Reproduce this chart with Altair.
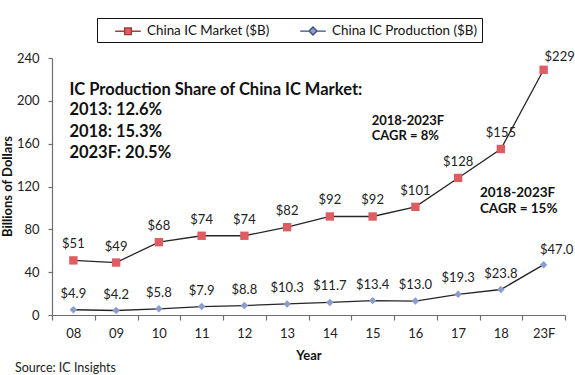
import altair as alt
import pandas as pd

# ---- data ----
years = ["08", "09", "10", "11", "12", "13", "14", "15", "16", "17", "18", "23F"]
market = [51, 49, 68, 74, 74, 82, 92, 92, 101, 128, 155, 229]
production = [4.9, 4.2, 5.8, 7.9, 8.8, 10.3, 11.7, 13.4, 13.0, 19.3, 23.8, 47.0]
series_names = ["China IC Market ($B)", "China IC Production ($B)"]
y_ticks = [0, 40, 80, 120, 160, 200, 240]

share_lines = ["IC Production Share of China IC Market:", "2013: 12.6%", "2018: 15.3%", "2023F: 20.5%"]
share_y = [210, 191, 171, 151]
cagr8_lines = ["2018-2023F", "CAGR = 8%"]
cagr8_y = [181, 167]
cagr15_lines = ["2018-2023F", "CAGR = 15%"]
cagr15_y = [114, 99]
source_text = "Source: IC Insights"

FONT = "Lato"
RED = "#de5d62"
BLUE = "#8a9dcc"
LINE = "#262626"

df_m = pd.DataFrame({"year": years, "value": market, "series": series_names[0],
                     "label": ["$" + f"{v:.0f}" for v in market]})
df_p = pd.DataFrame({"year": years, "value": production, "series": series_names[1],
                     "label": ["$" + f"{v:.1f}" for v in production]})
df_all = pd.concat([df_m, df_p], ignore_index=True)

xscale = alt.Scale(type="band", domain=years, paddingInner=0, paddingOuter=0)
yscale = alt.Scale(domain=[0, 240], nice=False, zero=True)

X = alt.X("year:N", scale=xscale, bandPosition=0.5,
          axis=alt.Axis(title="Year", tickBand="extent", labelAngle=0, ticks=True,
                        tickSize=5, labelPadding=7, titlePadding=9))
Y = alt.Y("value:Q", scale=yscale,
          axis=alt.Axis(title="Billions of Dollars", values=y_ticks, grid=False,
                        tickSize=4, labelPadding=9, titleX=-45, titleY=128,
                        titleBaseline="middle", titleAlign="center", titleAngle=270))

lines = alt.Chart(df_all).mark_line(color=LINE, strokeWidth=1.3).encode(
    x=X, y=Y, detail="series:N")

pts_m = alt.Chart(df_m).mark_point(shape="square", filled=True, color=RED, opacity=1, size=70).encode(
    x=X, y=Y)
pts_p = alt.Chart(df_p).mark_point(shape="diamond", filled=True, color=BLUE, opacity=1, size=55).encode(
    x=X, y=Y)

lab_style = dict(font=FONT, fontSize=13, color="#222")
lab_m = alt.Chart(df_m[df_m.year != "23F"]).mark_text(dy=-16, **lab_style).encode(
    x=X, y=Y, text="label:N")
lab_p = alt.Chart(df_p[df_p.year != "23F"]).mark_text(dy=-16, **lab_style).encode(
    x=X, y=Y, text="label:N")
lab_m_last = alt.Chart(df_m[df_m.year == "23F"]).mark_text(dx=16, dy=-13, **lab_style).encode(
    x=X, y=Y, text="label:N")
lab_p_last = alt.Chart(df_p[df_p.year == "23F"]).mark_text(dx=13, dy=-15, **lab_style).encode(
    x=X, y=Y, text="label:N")

# legend (dummy invisible layer carrying the legend)
path_sq = "M-1.6,0H-0.42M0.42,0H1.6M-0.42,-0.42H0.42V0.42H-0.42Z"
path_di = "M-1.6,0H-0.5M0.5,0H1.6M0,-0.5L0.5,0L0,0.5L-0.5,0Z"
leg = alt.Legend(title=None, orient="none", legendX=45, legendY=-40, direction="horizontal",
                 strokeColor="#111", padding=4, symbolSize=256, symbolStrokeWidth=1.4,
                 symbolOffset=18, labelOffset=10, columnPadding=16, symbolOpacity=1,
                 labelFont=FONT, labelFontSize=13.4, labelColor="#111")
df_leg = pd.DataFrame({"year": [years[0], years[0]], "value": [0, 0], "series": series_names})
legend_layer = alt.Chart(df_leg).mark_point(opacity=0, filled=True).encode(
    x=X, y=Y,
    fill=alt.Fill("series:N", scale=alt.Scale(domain=series_names, range=[RED, BLUE]), legend=leg),
    stroke=alt.Stroke("series:N", scale=alt.Scale(domain=series_names, range=["#a23a3e", "#3d4c7a"]), legend=leg),
    shape=alt.Shape("series:N", scale=alt.Scale(domain=series_names, range=[path_sq, path_di]), legend=leg),
)

# annotations
bold = dict(font=FONT, fontWeight="bold", color="#111", align="left", baseline="middle")
ann1 = alt.Chart(pd.DataFrame({"year": years[0], "value": share_y, "t": share_lines})).mark_text(
    dx=-4, fontSize=16.5, **bold).encode(x=X, y=Y, text="t:N")
ann2 = alt.Chart(pd.DataFrame({"year": years[7], "value": cagr8_y, "t": cagr8_lines})).mark_text(
    dx=-1, fontSize=13, **bold).encode(x=X, y=Y, text="t:N")
ann3 = alt.Chart(pd.DataFrame({"year": years[10], "value": cagr15_y, "t": cagr15_lines})).mark_text(
    dx=-21, fontSize=13.5, **bold).encode(x=X, y=Y, text="t:N")
src = alt.Chart(pd.DataFrame({"t": [source_text]})).mark_text(
    font=FONT, fontSize=12.5, color="#222", align="left", baseline="middle").encode(
    x=alt.value(-37), y=alt.value(310), text="t:N")

chart = alt.layer(lines, pts_m, pts_p, lab_m, lab_p, lab_m_last, lab_p_last,
                  legend_layer, ann1, ann2, ann3, src).resolve_scale(
    fill="independent", stroke="independent", shape="independent"
).properties(
    width=513, height=257, autosize=alt.AutoSizeParams(type="none"),
    padding={"left": 52, "top": 58, "right": 10, "bottom": 60},
    background="white",
).configure_view(stroke=None).configure_axis(
    labelFont=FONT, labelFontSize=13, labelColor="#222",
    titleFont=FONT, titleFontSize=13, titleFontWeight="bold", titleColor="#111",
    domainColor="#6e6e6e", tickColor="#6e6e6e", domainWidth=1.2, tickWidth=1.2,
)

chart.save("out.html", embed_options={"renderer": "svg", "actions": False})
